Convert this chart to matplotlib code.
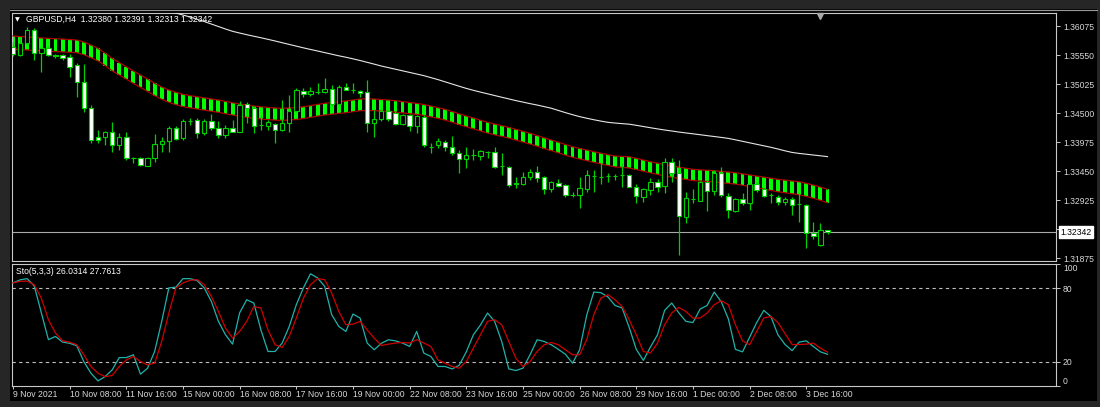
import matplotlib
matplotlib.use("Agg")
import matplotlib.pyplot as plt
from matplotlib.patches import Rectangle
from matplotlib.lines import Line2D

# ---------------- data ----------------
symbol_title = "GBPUSD,H4  1.32380 1.32391 1.32313 1.32342"
sto_title = "Sto(5,3,3) 26.0314 27.7613"
last_price = 1.32342

opens = [1.35700, 1.35550, 1.35767, 1.36003, 1.35586, 1.35677, 1.35545, 1.35550, 1.35519, 1.35369,
         1.35067, 1.34585, 1.34071, 1.34071, 1.34162, 1.33921, 1.34071, 1.33692, 1.33692, 1.33547,
         1.33692, 1.33933, 1.33993, 1.34234, 1.34042, 1.34355, 1.34373, 1.34132, 1.34355, 1.34222,
         1.34102, 1.34234, 1.34162, 1.34657, 1.34597, 1.34290, 1.34271, 1.34295, 1.34192, 1.34314,
         1.34542, 1.34904, 1.34844, 1.34886, 1.34874, 1.34929, 1.34663, 1.34977, 1.34916, 1.34904,
         1.34874, 1.34314, 1.34385, 1.34542, 1.34506, 1.34301, 1.34464, 1.34265, 1.34433, 1.33885,
         1.33921, 1.33981, 1.33878, 1.33770, 1.33668, 1.33743, 1.33728, 1.33795, 1.33800, 1.33541,
         1.33517, 1.33228, 1.33215, 1.33336, 1.33438, 1.33336, 1.33119, 1.33240, 1.33197, 1.33016,
         1.33016, 1.33125, 1.33360, 1.33342, 1.33360, 1.33360, 1.33378, 1.33378, 1.33167, 1.32985,
         1.33106, 1.33257, 1.33179, 1.33619, 1.33420, 1.32623, 1.32937, 1.32908, 1.33257, 1.33094,
         1.33420, 1.32998, 1.32732, 1.32937, 1.32864, 1.33215, 1.33119, 1.33016, 1.32985, 1.32895,
         1.32937, 1.32853, 1.32835, 1.32330, 1.32111, 1.32380]
highs = [1.35790, 1.35863, 1.36060, 1.36039, 1.35690, 1.35713, 1.35563, 1.35570, 1.35568, 1.35405,
         1.35382, 1.34645, 1.34192, 1.34170, 1.34334, 1.34132, 1.34162, 1.33704, 1.33700, 1.33700,
         1.34114, 1.34071, 1.34264, 1.34264, 1.34391, 1.34410, 1.34410, 1.34391, 1.34476, 1.34364,
         1.34283, 1.34373, 1.34723, 1.34705, 1.34620, 1.34464, 1.34373, 1.34320, 1.34735, 1.34826,
         1.34947, 1.34947, 1.34965, 1.35037, 1.35128, 1.35007, 1.35007, 1.35049, 1.35049, 1.34916,
         1.35097, 1.34554, 1.34590, 1.34560, 1.34530, 1.34490, 1.34480, 1.34470, 1.34470, 1.33951,
         1.34052, 1.34010, 1.34089, 1.33830, 1.33880, 1.33843, 1.33830, 1.33812, 1.33890, 1.33770,
         1.33535, 1.33336, 1.33432, 1.33480, 1.33535, 1.33360, 1.33275, 1.33300, 1.33210, 1.33070,
         1.33336, 1.33468, 1.33468, 1.33589, 1.33410, 1.33400, 1.33589, 1.33400, 1.33215, 1.33140,
         1.33318, 1.33300, 1.33680, 1.33680, 1.33649, 1.33076, 1.33119, 1.33275, 1.33287, 1.33468,
         1.33517, 1.33046, 1.32960, 1.33046, 1.33257, 1.33250, 1.33150, 1.33058, 1.33016, 1.32985,
         1.32985, 1.33076, 1.32853, 1.32532, 1.32503, 1.32391]
lows = [1.35530, 1.35530, 1.35740, 1.35460, 1.35242, 1.35532, 1.35496, 1.35460, 1.35157, 1.34795,
        1.34524, 1.33957, 1.33963, 1.33921, 1.33800, 1.33830, 1.33649, 1.33595, 1.33540, 1.33535,
        1.33619, 1.33800, 1.33800, 1.34010, 1.34011, 1.34283, 1.34042, 1.34102, 1.34192, 1.34042,
        1.34042, 1.34150, 1.34150, 1.34314, 1.34132, 1.34192, 1.34192, 1.33957, 1.34180, 1.34162,
        1.34518, 1.34795, 1.34808, 1.34844, 1.34856, 1.34627, 1.34627, 1.34910, 1.34856, 1.34795,
        1.34162, 1.34060, 1.34360, 1.34360, 1.34280, 1.34280, 1.34175, 1.34138, 1.33890, 1.33770,
        1.33860, 1.33812, 1.33740, 1.33408, 1.33499, 1.33649, 1.33649, 1.33680, 1.33499, 1.33378,
        1.33167, 1.33137, 1.33197, 1.33287, 1.33257, 1.33034, 1.33070, 1.33160, 1.32973, 1.32973,
        1.32775, 1.33070, 1.33076, 1.33215, 1.33257, 1.33290, 1.33167, 1.33160, 1.32876, 1.32883,
        1.33016, 1.33076, 1.33046, 1.33257, 1.31930, 1.32514, 1.32864, 1.32900, 1.32731, 1.33016,
        1.32973, 1.32593, 1.32708, 1.32835, 1.32744, 1.33070, 1.32980, 1.32876, 1.32835, 1.32835,
        1.32654, 1.32532, 1.32050, 1.32214, 1.32100, 1.32313]
closes = [1.35570, 1.35767, 1.36003, 1.35586, 1.35671, 1.35550, 1.35540, 1.35490, 1.35338, 1.35067,
          1.34585, 1.34011, 1.34011, 1.34162, 1.33921, 1.34071, 1.33680, 1.33680, 1.33559, 1.33692,
          1.33933, 1.33993, 1.34234, 1.34030, 1.34355, 1.34350, 1.34132, 1.34355, 1.34222, 1.34102,
          1.34222, 1.34162, 1.34645, 1.34585, 1.34271, 1.34283, 1.34331, 1.34192, 1.34314, 1.34542,
          1.34916, 1.34844, 1.34898, 1.34880, 1.34929, 1.34663, 1.34965, 1.34916, 1.34910, 1.34856,
          1.34325, 1.34391, 1.34542, 1.34385, 1.34301, 1.34464, 1.34271, 1.34446, 1.33921, 1.33879,
          1.33999, 1.33890, 1.33770, 1.33662, 1.33740, 1.33737, 1.33806, 1.33790, 1.33529, 1.33536,
          1.33197, 1.33222, 1.33348, 1.33438, 1.33318, 1.33119, 1.33245, 1.33179, 1.33016, 1.33010,
          1.33137, 1.33378, 1.33355, 1.33336, 1.33365, 1.33366, 1.33372, 1.33167, 1.32998, 1.33119,
          1.33257, 1.33167, 1.33619, 1.33408, 1.32635, 1.32955, 1.32943, 1.33257, 1.33094, 1.33420,
          1.33016, 1.32744, 1.32937, 1.32864, 1.33215, 1.33106, 1.32998, 1.33010, 1.32895, 1.32937,
          1.32835, 1.32850, 1.32334, 1.32270, 1.32378, 1.32342]

# ribbon indicator: upper line and band width (green bars between two red lines)
band_upper = [1.35894, 1.35885, 1.35876, 1.35867, 1.35860, 1.35852, 1.35845, 1.35838, 1.35831, 1.35822,
              1.35785, 1.35731, 1.35671, 1.35586, 1.35490, 1.35414, 1.35338, 1.35261, 1.35188, 1.35116,
              1.35038, 1.34971, 1.34917, 1.34875, 1.34839, 1.34815, 1.34795, 1.34775, 1.34754, 1.34736,
              1.34710, 1.34687, 1.34663, 1.34645, 1.34627, 1.34614, 1.34602, 1.34591, 1.34585, 1.34591,
              1.34600, 1.34614, 1.34634, 1.34656, 1.34676, 1.34690, 1.34705, 1.34718, 1.34736, 1.34754,
              1.34757, 1.34754, 1.34745, 1.34736, 1.34723, 1.34707, 1.34690, 1.34676, 1.34654, 1.34627,
              1.34598, 1.34567, 1.34527, 1.34486, 1.34446, 1.34410, 1.34370, 1.34332, 1.34301, 1.34272,
              1.34241, 1.34205, 1.34169, 1.34133, 1.34093, 1.34051, 1.34012, 1.33972, 1.33930, 1.33890,
              1.33860, 1.33831, 1.33800, 1.33773, 1.33747, 1.33722, 1.33715, 1.33709, 1.33680, 1.33650,
              1.33619, 1.33592, 1.33566, 1.33541, 1.33521, 1.33501, 1.33481, 1.33472, 1.33465, 1.33456,
              1.33443, 1.33432, 1.33420, 1.33400, 1.33380, 1.33360, 1.33340, 1.33320, 1.33300, 1.33286,
              1.33271, 1.33257, 1.33228, 1.33197, 1.33161, 1.33119]
band_width = [0.00235, 0.00235, 0.00234, 0.00234, 0.00233, 0.00233, 0.00232, 0.00232, 0.00231, 0.00230,
              0.00229, 0.00228, 0.00227, 0.00226, 0.00226, 0.00226, 0.00225, 0.00225, 0.00224, 0.00224,
              0.00223, 0.00223, 0.00223, 0.00223, 0.00222, 0.00222, 0.00222, 0.00222, 0.00222, 0.00223,
              0.00223, 0.00223, 0.00223, 0.00222, 0.00222, 0.00221, 0.00220, 0.00219, 0.00218, 0.00217,
              0.00216, 0.00214, 0.00213, 0.00212, 0.00212, 0.00212, 0.00212, 0.00212, 0.00212, 0.00212,
              0.00212, 0.00211, 0.00210, 0.00208, 0.00206, 0.00204, 0.00202, 0.00200, 0.00198, 0.00196,
              0.00195, 0.00195, 0.00195, 0.00195, 0.00195, 0.00195, 0.00195, 0.00195, 0.00195, 0.00195,
              0.00195, 0.00195, 0.00194, 0.00194, 0.00193, 0.00193, 0.00192, 0.00192, 0.00192, 0.00192,
              0.00192, 0.00192, 0.00193, 0.00194, 0.00195, 0.00197, 0.00199, 0.00203, 0.00203, 0.00203,
              0.00203, 0.00203, 0.00203, 0.00203, 0.00203, 0.00203, 0.00203, 0.00203, 0.00203, 0.00203,
              0.00204, 0.00205, 0.00206, 0.00208, 0.00210, 0.00213, 0.00217, 0.00221, 0.00225, 0.00228,
              0.00232, 0.00236, 0.00238, 0.00240, 0.00242, 0.00243]

# long moving average (white line); values start at bar MA_FIRST_BAR
MA_FIRST_BAR = 22
ma_values = [1.36347, 1.36310, 1.36274, 1.36238, 1.36196, 1.36156, 1.36111, 1.36066, 1.36021, 1.35979,
             1.35948, 1.35918, 1.35890, 1.35863, 1.35834, 1.35804, 1.35773, 1.35742, 1.35711, 1.35680,
             1.35651, 1.35623, 1.35594, 1.35565, 1.35536, 1.35510, 1.35481, 1.35451, 1.35418, 1.35385,
             1.35351, 1.35322, 1.35293, 1.35264, 1.35235, 1.35206, 1.35177, 1.35141, 1.35105, 1.35065,
             1.35025, 1.34985, 1.34946, 1.34911, 1.34879, 1.34848, 1.34817, 1.34786, 1.34756, 1.34725,
             1.34698, 1.34670, 1.34645, 1.34616, 1.34587, 1.34547, 1.34507, 1.34470, 1.34435, 1.34406,
             1.34379, 1.34354, 1.34332, 1.34319, 1.34308, 1.34298, 1.34278, 1.34256, 1.34234, 1.34213,
             1.34193, 1.34175, 1.34156, 1.34140, 1.34124, 1.34108, 1.34091, 1.34075, 1.34059, 1.34041,
             1.34015, 1.33988, 1.33961, 1.33934, 1.33907, 1.33880, 1.33849, 1.33816, 1.33787, 1.33769,
             1.33755, 1.33740, 1.33726, 1.33711]

sto_main = [84.5, 87, 88, 82, 60, 38, 40.6, 36, 35, 33, 20, 10.5, 4.2, 7.7, 13.2, 23.3, 23.3, 25.6, 9.7, 14.6,
            28.3, 53, 80.4, 81, 88, 88, 86.4, 80.4, 69.4, 53, 42, 34.3, 60, 70.7, 68, 46, 28.3, 28.3, 35.2, 48.8,
            66.6, 80.4, 92, 88.6, 81.7, 58.4, 48.8, 44.7, 59, 55.7, 35.2, 29.7, 35, 37.9, 37, 35.2, 32.4, 44.7, 27, 24.2,
            16, 16, 14, 17, 28, 42, 50, 59.8, 53, 36.5, 14, 12.7, 14.6, 25.6, 37.9, 36.5, 33.8, 30, 26, 18.7,
            29.7, 58, 77, 76.5, 73, 66, 64, 48, 30, 21, 32, 42, 62, 68, 60, 53, 52, 63, 66, 77,
            69, 55, 30, 28, 40, 52, 62, 57, 42, 34, 29, 36, 37, 32.4, 28, 26.0314]
sto_signal = [84.5, 85.8, 86, 83, 72, 54.3, 43.4, 37, 36, 33.8, 25.6, 16, 10.5, 7.7, 8.6, 16, 21.4, 24.2, 20, 17.3,
              18.7, 36.5, 59.8, 80.4, 84.5, 86.6, 87.2, 83, 73.5, 61.1, 47.5, 39.3, 44.7, 53, 65.2, 63.9, 46, 33.8, 31.6, 40.6,
              55.7, 72, 83, 88, 87.2, 76.2, 61.1, 50.2, 50.7, 53, 46, 39.3, 33.2, 34.3, 35.2, 35.7, 35.2, 37.9, 35.2, 32.4,
              21.4, 18.7, 16, 14.6, 20, 31.1, 42, 53, 54.3, 50.2, 36.5, 22.8, 16, 20, 28.3, 33.8, 35.7, 33.8, 29.7, 25.6,
              25.6, 37.9, 58.4, 72, 74.9, 70.7, 65.2, 54.3, 42, 28.3, 27, 35.2, 50.2, 59.8, 64.4, 61.1, 55.7, 55.7, 59.8, 66.6,
              69.9, 66.6, 50.2, 37, 33.8, 44.7, 55.7, 57, 52, 43, 34, 34, 34.3, 35.2, 31, 27.7613]

price_ticks = [1.36075, 1.35550, 1.35025, 1.34500, 1.33975, 1.33450, 1.32925, 1.32400, 1.31875]
hidden_price_ticks = [1.32400]   # covered by the current-price box in the reference
sto_levels = [80, 20]
sto_ticks = [100, 80, 20, 0]
time_tick_bars = [0, 8, 16, 24, 32, 40, 48, 56, 64, 72, 80, 88, 96, 104, 112]
time_labels = ["9 Nov 2021", "10 Nov 08:00", "11 Nov 16:00", "15 Nov 00:00", "16 Nov 08:00",
               "17 Nov 16:00", "19 Nov 00:00", "22 Nov 08:00", "23 Nov 16:00", "25 Nov 00:00",
               "26 Nov 08:00", "29 Nov 16:00", "1 Dec 00:00", "2 Dec 08:00", "3 Dec 16:00"]

# ---------------- styling ----------------
FONT = "Liberation Sans"
plt.rcParams["font.family"] = [FONT, "DejaVu Sans"]
W, H = 1100, 407
BG_OUTER = "#262626"
AX_LINE = "#c8c8c8"
TXT = "#d8d8d8"
CANDLE = "#00d000"
RIB_GREEN = "#00ff00"
RIB_RED = "#b00000"
TEAL = "#20b2aa"
SIG_RED = "#d00000"

fig = plt.figure(figsize=(W / 100, H / 100), dpi=100)
fig.patch.set_facecolor(BG_OUTER)


def px_axes(x0, y0, x1, y1):
    return fig.add_axes([x0 / W, 1 - y1 / H, (x1 - x0) / W, (y1 - y0) / H])


# black chart window
fig.add_artist(Rectangle((10 / W, 1 - 401 / H), 1087 / W, 392 / H, transform=fig.transFigure,
                         facecolor="black", edgecolor="none", zorder=0))
fig.add_artist(Line2D([10 / W, 1097 / W], [1 - 10 / H, 1 - 10 / H], transform=fig.transFigure,
                      color="#9a9a9a", lw=0.8))

n = len(closes)
bars = list(range(n))
XLIM = (-0.141, 147.26)

# ---------------- main price panel ----------------
ax = px_axes(12, 12.7, 1056, 261)
ax.set_facecolor("black")
ax.set_xlim(*XLIM)
ax.set_ylim(1.31822, 1.36316)

band_lower = [u - w for u, w in zip(band_upper, band_width)]
ax.bar(bars, [u - l for u, l in zip(band_upper, band_lower)], bottom=band_lower, width=0.55,
       color=RIB_GREEN, linewidth=0, zorder=2)
ax.plot(bars, band_upper, color=RIB_RED, lw=0.9, zorder=3)
ax.plot(bars, band_lower, color=RIB_RED, lw=0.9, zorder=3)

ma_bars = list(range(MA_FIRST_BAR, MA_FIRST_BAR + len(ma_values)))
ax.plot(ma_bars, ma_values, color="#e6e6e6", lw=0.8, zorder=3)

ax.axhline(last_price, color="#a8a8a8", lw=0.8, zorder=1)

body_w = 0.62
for i in bars:
    o, h, l, c = opens[i], highs[i], lows[i], closes[i]
    ax.vlines(i, l, h, color=CANDLE, lw=0.9, zorder=4)
    bottom = min(o, c)
    height = abs(c - o)
    face = "white" if c < o else "black"
    ax.add_patch(Rectangle((i - body_w / 2, bottom), body_w, height, facecolor=face,
                           edgecolor=CANDLE, lw=0.8, zorder=5))

ax.yaxis.tick_right()
ax.set_yticks(price_ticks)
ax.set_yticklabels(["" if p in hidden_price_ticks else f"{p:.5f}" for p in price_ticks])
ax.tick_params(axis="y", colors=AX_LINE, labelcolor=TXT, labelsize=6.2, length=3, width=0.7, pad=2)
ax.set_xticks([])
for s in ax.spines.values():
    s.set_color(AX_LINE)
    s.set_linewidth(0.8)

ax.annotate(f"{last_price:.5f}", xy=(1.0, last_price), xycoords=("axes fraction", "data"),
            xytext=(3, 0), textcoords="offset points", ha="left", va="center",
            fontsize=6.2, color="black", zorder=10, annotation_clip=False,
            bbox=dict(boxstyle="square,pad=0.18", facecolor="white", edgecolor="white"))

ax.plot([(820 - 12) / 1044], [0.985], marker="v", ms=5, color="#a8a8a8", transform=ax.transAxes,
        clip_on=False, zorder=10)

fig.text(15 / W, 1 - 19.5 / H, "\u25bc", fontsize=4.5, color="white", va="center", ha="left",
         family="DejaVu Sans")
fig.text(26 / W, 1 - 19.5 / H, symbol_title, fontsize=6.2, color="white", va="center", ha="left")

# ---------------- stochastic panel ----------------
ax2 = px_axes(12, 264, 1056, 386)
ax2.set_facecolor("black")
ax2.set_xlim(*XLIM)
ax2.set_ylim(0, 100)
for lv in sto_levels:
    ax2.axhline(lv, color="#bdbdbd", lw=0.8, ls=(0, (3, 3)), zorder=1)
ax2.plot(bars, sto_main, color=TEAL, lw=0.9, zorder=3)
ax2.plot(bars, sto_signal, color=SIG_RED, lw=0.9, zorder=3)

ax2.yaxis.tick_right()
ax2.set_yticks(sto_ticks)
ax2.set_yticklabels([str(t) for t in sto_ticks])
ax2.tick_params(axis="y", colors=AX_LINE, labelcolor=TXT, labelsize=6.2, length=3, width=0.7, pad=2)
ylabels = ax2.get_yticklabels()
ylabels[0].set_va("top")
ylabels[-1].set_va("bottom")

ax2.set_xticks(time_tick_bars)
ax2.set_xticklabels(time_labels)
ax2.tick_params(axis="x", colors=AX_LINE, labelcolor=TXT, labelsize=6.2, length=2.5, width=0.7, pad=0.5)
for t in ax2.get_xticklabels():
    t.set_ha("left")
for s in ax2.spines.values():
    s.set_color(AX_LINE)
    s.set_linewidth(0.8)

ax2.text(4 / 1044, 0.94, sto_title, transform=ax2.transAxes, fontsize=6.2, color="white",
         va="center", ha="left")

fig.savefig("out.png", dpi=100, facecolor=fig.get_facecolor())
